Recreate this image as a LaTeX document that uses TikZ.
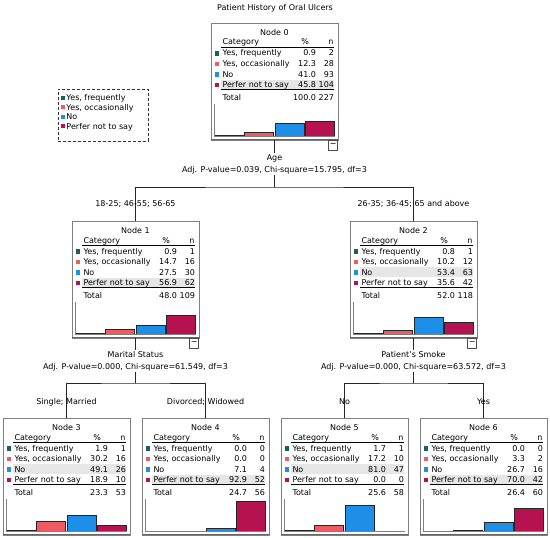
\documentclass[tikz,border=0pt]{standalone}
\usepackage{fontspec}
\setmainfont{DejaVu Sans}
\definecolor{bar1}{HTML}{1F5F5B}
\definecolor{bar2}{HTML}{F05A62}
\definecolor{bar3}{HTML}{1E8FE8}
\definecolor{bar4}{HTML}{B5124F}
\definecolor{frame}{HTML}{7F7F7F}
\definecolor{hlgray}{HTML}{E6E6E6}
\tikzset{
  txt/.style={font=\fontsize{8}{9.5}\selectfont, inner sep=0pt, outer sep=0pt},
  treebox/.style={draw=frame, line width=0.8pt, minimum width=127pt, minimum height=117pt, inner sep=0pt, outer sep=0pt, anchor=north west, fill=white},
  btn/.style={draw=black!70, fill=white, line width=0.6pt, minimum width=9pt, minimum height=10pt, inner sep=0pt, anchor=north east, font=\fontsize{8}{8}\selectfont},
  conn/.style={draw=black!85, line width=0.7pt},
  splitlbl/.style={fill=white, align=center, inner sep=1pt, font=\fontsize{8}{12}\selectfont},
  branchlbl/.style={txt, anchor=base},
  legendbox/.style={draw=black!80, dash pattern=on 3pt off 2pt, line width=0.7pt, minimum width=90pt, minimum height=52pt, inner sep=0pt, anchor=north west},
}
\newcommand\treenode[8]{%
  \node[treebox] (#1) at #2 {};
  \draw[frame!80!black, line width=1.6pt] ([yshift=0.4pt]#1.south west) -- ([yshift=0.4pt]#1.south east);
  \begin{scope}[shift={(#1.north west)}]
    \fill[hlgray] (10,{19.5+10.5*#4-5}) rectangle (123,{19.5+10.5*#4+5});
    \node[txt,anchor=base] (#1-title) at (63.5,12) {#3};
    \node[txt,anchor=base west] (#1-cat) at (11.5,22) {Category};
    \node[txt,anchor=base east] (#1-pcth) at (98,22) {\%};
    \node[txt,anchor=base east] (#1-nh) at (122.5,22) {n};
    \draw[black, line width=0.6pt] (10,24) -- (123,24);
    \foreach \lab [count=\i] in {{Yes, frequently},{Yes, occasionally},No,{Perfer not to say}} {
      \pgfmathsetmacro\yc{19.5+10.5*\i}
      \fill[bar\i] (3.5,{\yc-2}) rectangle (8,{\yc+2.5});
      \node[txt,anchor=base west] (#1-lab\i) at (11.5,{\yc+3}) {\lab};
    }
    \foreach \p/\n [count=\i] in {#5} {
      \pgfmathsetmacro\yc{19.5+10.5*\i}
      \node[txt,anchor=base east] (#1-pct\i) at (105,{\yc+3}) {\p};
      \node[txt,anchor=base east] (#1-n\i) at (123,{\yc+3}) {\n};
      \ifdim\p pt>0pt
        \filldraw[fill=bar\i, draw=black!85, line width=0.6pt] ({3.5+30.2*(\i-1)},113) rectangle ++(29,{-0.32*\p});
      \fi
    }
    \draw[black, line width=0.8pt] (10,66.8) -- (123,66.8);
    \node[txt,anchor=base west] (#1-tot) at (11.5,77.5) {Total};
    \node[txt,anchor=base east] (#1-totp) at (105,77.5) {#6};
    \node[txt,anchor=base east] (#1-totn) at (123,77.5) {#7};
    \draw[frame, line width=0.7pt] (3,81) -- (3,113.5) -- (124,113.5);
  \end{scope}
  \ifnum#8=1 \node[btn] (#1-btn) at (#1.south east) {−};\fi
}
\begin{document}
\begin{tikzpicture}[x=1pt, y=-1pt]
\fill[white] (0,0) rectangle (550,538);
\useasboundingbox (0,0) rectangle (550,538);

\node[txt, anchor=base] (title) at (275,10) {Patient History of Oral Ulcers};

% legend
\node[legendbox] (legend) at (58,89) {};
\foreach \lab [count=\i] in {{Yes, frequently},{Yes, occasionally},No,{Perfer not to say}} {
  \pgfmathsetmacro\yc{88.5+9.4*\i}
  \fill[bar\i] (61,{\yc-2}) rectangle (65,{\yc+2});
  \node[txt,anchor=base west] (leg\i) at (66.5,{\yc+3}) {\lab};
}

\treenode{n0}{(211,23)}{Node 0}{4}{0.9/2,12.3/28,41.0/93,45.8/104}{100.0}{227}{1}
\treenode{n1}{(72,221)}{Node 1}{4}{0.9/1,14.7/16,27.5/30,56.9/62}{48.0}{109}{1}
\treenode{n2}{(350,221)}{Node 2}{3}{0.8/1,10.2/12,53.4/63,35.6/42}{52.0}{118}{1}
\treenode{n3}{(3,418)}{Node 3}{3}{1.9/1,30.2/16,49.1/26,18.9/10}{23.3}{53}{0}
\treenode{n4}{(142,418)}{Node 4}{4}{0.0/0,0.0/0,7.1/4,92.9/52}{24.7}{56}{0}
\treenode{n5}{(281,418)}{Node 5}{3}{1.7/1,17.2/10,81.0/47,0.0/0}{25.6}{58}{0}
\treenode{n6}{(420,418)}{Node 6}{4}{0.0/0,3.3/2,26.7/16,70.0/42}{26.4}{60}{0}

% connectors
\coordinate (j0) at (274.5,187);
\coordinate (j1) at (135.5,383);
\coordinate (j2) at (413.5,383);
\draw[conn] (n0.south) -- (j0);
\draw[conn] (n1.north) |- (j0) -| (n2.north);
\draw[conn] (n1.south) -- (j1);
\draw[conn] (n3.north) |- (j1) -| (n4.north);
\draw[conn] (n2.south) -- (j2);
\draw[conn] (n5.north) |- (j2) -| (n6.north);

% split labels
\node[splitlbl] (s0) at (274.5,164) {Age\\Adj. P-value=0.039, Chi-square=15.795, df=3};
\node[splitlbl] (s1) at (135.5,361) {Marital Status\\Adj. P-value=0.000, Chi-square=61.549, df=3};
\node[splitlbl] (s2) at (413.5,361) {Patient's Smoke\\Adj. P-value=0.000, Chi-square=63.572, df=3};

% branch labels
\node[branchlbl] (b1) at (135.5,206) {18-25; 46-55; 56-65};
\node[branchlbl] (b2) at (413.5,206) {26-35; 36-45; 65 and above};
\node[branchlbl] (b3) at (66.5,404) {Single; Married};
\node[branchlbl] (b4) at (205.5,404) {Divorced; Widowed};
\node[branchlbl] (b5) at (344.5,404) {No};
\node[branchlbl] (b6) at (483.5,404) {Yes};
\end{tikzpicture}
\end{document}
